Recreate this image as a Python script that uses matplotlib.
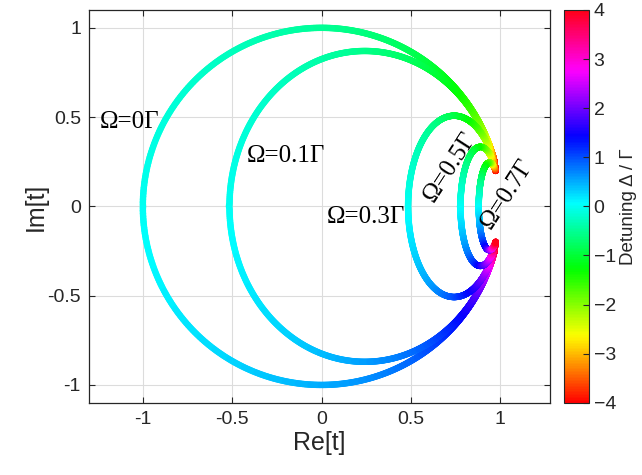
import numpy as np
import matplotlib
matplotlib.use("Agg")
import matplotlib.pyplot as plt
from matplotlib.collections import LineCollection
from matplotlib.colors import Normalize

# Rabi frequencies (units of Gamma) and detuning sweep range
omegas = [0.0, 0.1, 0.3, 0.5, 0.7]
omega_labels = ["Ω=0Γ", "Ω=0.1Γ", "Ω=0.3Γ", "Ω=0.5Γ", "Ω=0.7Γ"]
label_x = [-1.24, -0.42, 0.03, 0.72, 1.04]
label_y = [0.47, 0.28, -0.06, 0.22, 0.07]
label_rot = [0, 0, 0, 57, 57]
detuning_range = [-4.0, 4.0]
cbar_ticks = [-4, -3, -2, -1, 0, 1, 2, 3, 4]
xticks = [-1, -0.5, 0, 0.5, 1]
yticks = [-1, -0.5, 0, 0.5, 1]

gamma = 1.0
sat = 8.0  # saturation factor on Omega^2


def transmission(delta, omega):
    den = delta ** 2 + gamma ** 2 / 4 + sat * omega ** 2
    return 1 - gamma * (gamma / 2 + 1j * delta) / den


plt.rcParams['font.family'] = ['Liberation Sans', 'DejaVu Sans']
fig = plt.figure(figsize=(6.42, 4.75), dpi=100)
ax = fig.add_axes([0.139, 0.152, 0.718, 0.827])
cax = fig.add_axes([0.878, 0.152, 0.039, 0.827])

cmap = plt.get_cmap('hsv')
norm = Normalize(vmin=detuning_range[0], vmax=detuning_range[1])
delta = np.linspace(detuning_range[0], detuning_range[1], 2000)

for om in omegas:
    t = transmission(delta, om)
    pts = np.column_stack([t.real, t.imag]).reshape(-1, 1, 2)
    segs = np.concatenate([pts[:-1], pts[1:]], axis=1)
    lc = LineCollection(segs, cmap=cmap, norm=norm, linewidth=4.6,
                        capstyle='round', zorder=3)
    lc.set_array(0.5 * (delta[:-1] + delta[1:]))
    ax.add_collection(lc)

serif = ['Liberation Serif', 'DejaVu Serif']
for lab, lx, ly, rot in zip(omega_labels, label_x, label_y, label_rot):
    if rot:
        ax.text(lx, ly, lab, rotation=rot, ha='center', va='center',
                rotation_mode='anchor', fontsize=18, family=serif, zorder=4)
    else:
        ax.text(lx, ly, lab, ha='left', va='center', fontsize=18,
                family=serif, zorder=4)

ax.set_xlim(-1.3, 1.28)
ax.set_ylim(-1.1, 1.1)
ax.set_xticks(xticks)
ax.set_yticks(yticks)
ax.set_xticklabels(['-1', '-0.5', '0', '0.5', '1'])
ax.set_yticklabels(['-1', '-0.5', '0', '0.5', '1'])
ax.grid(True, color='#dcdcdc', linewidth=0.8, zorder=0)
ax.set_axisbelow(True)
ax.tick_params(direction='in', length=4, width=0.8, colors='#262626',
               labelsize=14, top=True, right=True, pad=6)
for sp in ax.spines.values():
    sp.set_color('#262626')
    sp.set_linewidth(0.9)
ax.set_xlabel('Re[t]', fontsize=18, color='#262626', labelpad=2)
ax.set_ylabel('Im[t]', fontsize=18, color='#262626', labelpad=0)

cb = fig.colorbar(plt.cm.ScalarMappable(norm=norm, cmap=cmap), cax=cax)
cb.set_ticks(cbar_ticks)
cb.ax.tick_params(direction='in', length=4, labelsize=14, colors='#262626')
cb.outline.set_edgecolor('#262626')
cb.set_label('Detuning Δ / Γ', fontsize=13.5, color='#262626', labelpad=3)

fig.savefig('out.png', dpi=100)
